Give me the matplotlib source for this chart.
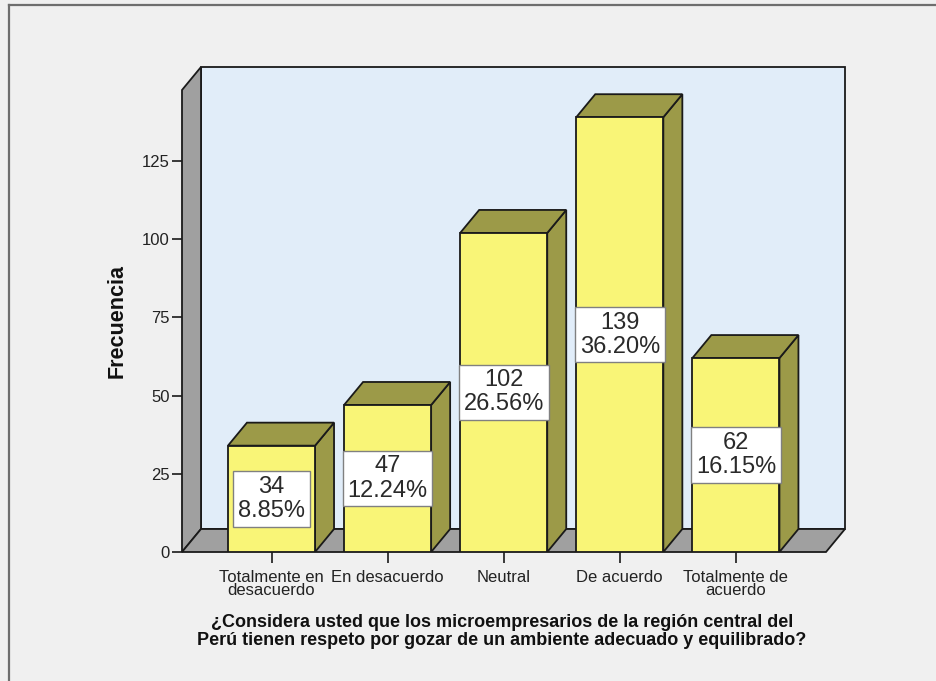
import matplotlib
matplotlib.use("Agg")
import matplotlib.pyplot as plt
from matplotlib.patches import Polygon, Rectangle
from matplotlib.lines import Line2D

# Response categories and their frequencies
categories = ["Totalmente en\ndesacuerdo", "En desacuerdo", "Neutral",
              "De acuerdo", "Totalmente de\nacuerdo"]
counts = [34, 47, 102, 139, 62]
total = sum(counts)
percents = [100.0 * c / total for c in counts]
yticks = [0, 25, 50, 75, 100, 125]

x_title = ("¿Considera usted que los microempresarios de la región central del\n"
           "Perú tienen respeto por gozar de un ambiente adecuado y equilibrado?")
y_title = "Frecuencia"

# Colours
BG = "#F0F0F0"
WALL_BACK = "#E1EDF9"
WALL_GREY = "#A0A0A0"
BAR_FRONT = "#F9F577"
BAR_SHADE = "#9C9A48"
EDGE = "#1a1a1a"

plt.rcParams["font.family"] = ["Liberation Sans", "DejaVu Sans"]

W, H = 937, 681
fig = plt.figure(figsize=(W / 100, H / 100), dpi=100, facecolor=BG)

# Plot area in pixels: front plane + depth offset
left_px, right_px, base_px, top_px = 182, 845, 552, 67
ax = fig.add_axes([left_px / W, (H - base_px) / H,
                   (right_px - left_px) / W, (base_px - top_px) / H])
ax.set_facecolor("none")

x_unit = 116.1          # pixels per category step
y_unit = 3.128          # pixels per frequency unit
x_lo = -(271.5 - left_px) / x_unit
x_hi = x_lo + (right_px - left_px) / x_unit
y_hi = (base_px - top_px) / y_unit
ax.set_xlim(x_lo, x_hi)
ax.set_ylim(0, y_hi)

dx = 19 / x_unit        # depth offset (x)
dy = 23 / y_unit        # depth offset (y)
x_front_r = x_hi - dx
y_front_top = y_hi - dy
half = 0.375            # half bar width

lw = 1.3
# Back wall
ax.add_patch(Rectangle((x_lo + dx, dy), x_hi - x_lo - dx, y_hi - dy,
                       fc=WALL_BACK, ec=EDGE, lw=lw, zorder=1, clip_on=False))
# Left wall
ax.add_patch(Polygon([(x_lo, 0), (x_lo, y_front_top), (x_lo + dx, y_hi),
                      (x_lo + dx, dy)], closed=True, fc=WALL_GREY, ec=EDGE,
                     lw=lw, zorder=2, clip_on=False))
# Floor
ax.add_patch(Polygon([(x_lo, 0), (x_front_r, 0), (x_front_r + dx, dy),
                      (x_lo + dx, dy)], closed=True, fc=WALL_GREY, ec=EDGE,
                     lw=lw, zorder=2, clip_on=False))

# Bars
for i, (v, p) in enumerate(zip(counts, percents)):
    x0, x1 = i - half, i + half
    ax.add_patch(Polygon([(x1, 0), (x1 + dx, dy), (x1 + dx, v + dy), (x1, v)],
                         closed=True, fc=BAR_SHADE, ec=EDGE, lw=lw, zorder=3))
    ax.add_patch(Polygon([(x0, v), (x1, v), (x1 + dx, v + dy), (x0 + dx, v + dy)],
                         closed=True, fc=BAR_SHADE, ec=EDGE, lw=lw, zorder=3))
    ax.add_patch(Rectangle((x0, 0), 2 * half, v, fc=BAR_FRONT, ec=EDGE,
                           lw=lw, zorder=4))
    ax.text(i, v / 2, f"{v}\n{p:.2f}%", ha="center", va="center",
            fontsize=17, color="#2a2a2a", linespacing=1.12, zorder=6,
            bbox=dict(boxstyle="square,pad=0.2", fc="white", ec="#808080", lw=1))

# Axes decoration
for s in ax.spines.values():
    s.set_visible(False)
ax.set_yticks(yticks)
ax.set_yticklabels([str(t) for t in yticks])
ax.set_xticks(range(len(categories)))
ax.set_xticklabels(categories, linespacing=0.85)
ax.tick_params(axis="y", length=7, width=1.2, color=EDGE, pad=2,
               labelsize=12, labelcolor="#222222")
ax.tick_params(axis="x", length=8, width=1.2, color=EDGE, pad=5,
               labelsize=12, labelcolor="#222222")

fig.text(117 / W, 1 - 321 / H, y_title, rotation=90, ha="center", va="center",
         fontsize=15.5, fontweight="bold", color="#111111")
fig.text(502 / W, 1 - 614 / H, x_title, ha="center", va="top",
         fontsize=13, fontweight="bold", color="#111111", linespacing=1.08)

# Outer frame (top and left edges)
fig.add_artist(Line2D([9 / W, 9 / W], [0, 1 - 4.5 / H], color="#6E6E6E", lw=1.6,
                      transform=fig.transFigure))
fig.add_artist(Line2D([9 / W, 1], [1 - 4.5 / H, 1 - 4.5 / H], color="#6E6E6E",
                      lw=1.6, transform=fig.transFigure))

fig.savefig("out.png", dpi=100, facecolor=BG)
